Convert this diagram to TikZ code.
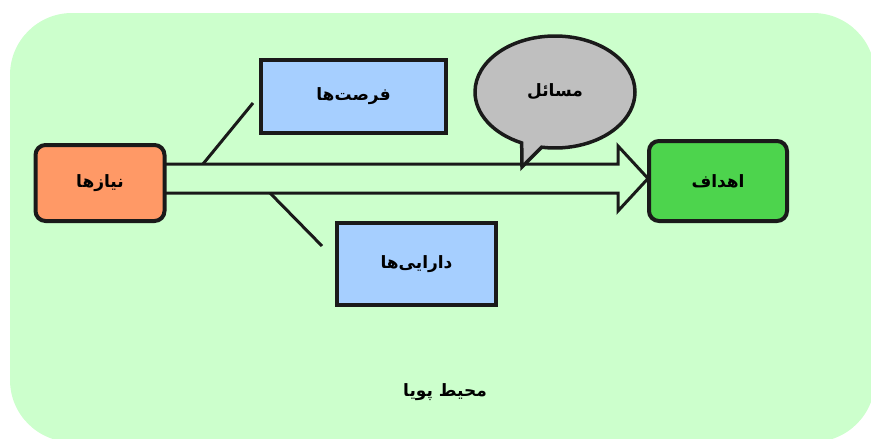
\documentclass[tikz,border=0pt]{standalone}
\usepackage{fontspec}
\newfontfamily\arabicfont[Script=Arabic]{DejaVu Sans}
\TeXXeTstate=1
\usetikzlibrary{shapes.callouts}
\definecolor{envgreen}{HTML}{CCFFCC}
\definecolor{needorange}{HTML}{FF9966}
\definecolor{boxblue}{HTML}{A6CFFF}
\definecolor{issuegrey}{HTML}{BFBFBF}
\definecolor{goalgreen}{HTML}{4DD44D}
\definecolor{edge}{HTML}{1A1A1A}
\begin{document}
\begin{tikzpicture}[x=1pt,y=-1pt,
        lbl/.style={font=\arabicfont\bfseries\fontsize{17}{20}\selectfont},
        box/.style={lbl,draw=edge,line width=4pt,inner sep=0pt},
        link/.style={draw=edge,line width=3pt}]
    \useasboundingbox (0,0) rectangle (871,439);
    \fill[envgreen,rounded corners=62pt] (10,13) rectangle (875,442);

    % the two side links
    \coordinate (up) at (203,164);
    \coordinate (upend) at (253,103);
    \coordinate (down) at (270,193);
    \coordinate (downend) at (322,246);
    \draw[link] (up) -- (upend);
    \draw[link] (down) -- (downend);

    % hollow arrow
    \draw[link,line join=miter] (166,164) -- (618,164) -- (618,146) -- (648,178.5)
        -- (618,211) -- (618,193) -- (166,193);

\node[box,fill=needorange,rounded corners=10pt,minimum width=129pt,minimum height=76pt]
    (needs) at (100,183) {\beginR نیازها\endR};
\node[box,fill=boxblue,minimum width=185pt,minimum height=73pt]
    (chances) at (353.5,96.5) {\beginR فرصت‌ها\endR};
\node[box,fill=boxblue,minimum width=159pt,minimum height=82pt]
    (assets) at (416.5,264) {\beginR دارایی‌ها\endR};
\node[box,fill=goalgreen,rounded corners=10pt,minimum width=138pt,minimum height=80pt]
    (goals) at (718,181) {\beginR اهداف\endR};
\node[lbl,ellipse callout,draw=edge,line width=3.5pt,fill=issuegrey,
    minimum width=160pt,minimum height=112pt,inner sep=0pt,
    callout absolute pointer={(522,167)}]
    (issues) at (555,92) {\beginR مسائل\endR};

    \node[lbl] (env) at (445,392) {\beginR محیط پویا\endR};
\end{tikzpicture}
\end{document}
